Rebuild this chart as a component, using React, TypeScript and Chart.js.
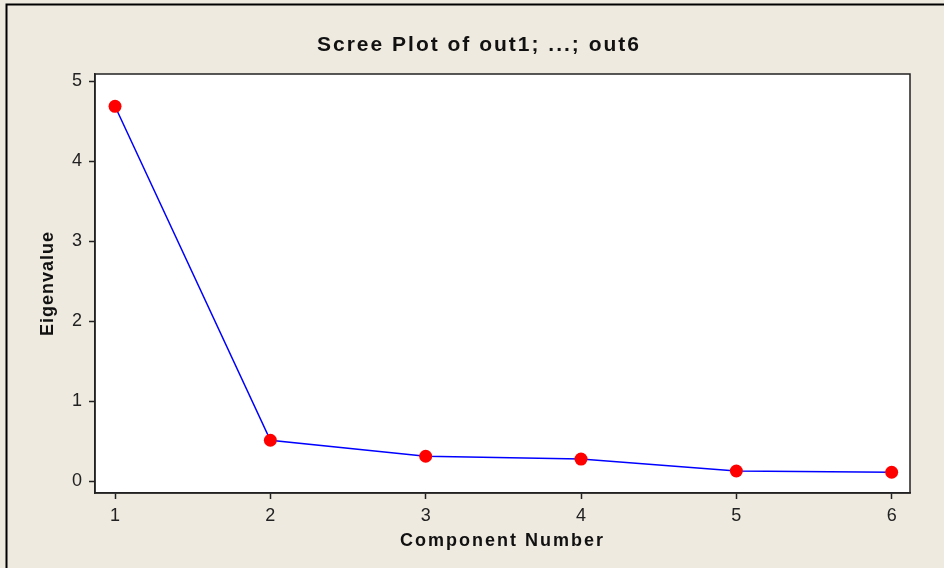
import React, { useEffect, useRef } from "react";
import { Chart, registerables } from "chart.js";

Chart.register(...registerables);

const components = [1, 2, 3, 4, 5, 6];
const eigenvalues = [4.69, 0.51, 0.31, 0.275, 0.125, 0.11];
const xTickValues = [1, 2, 3, 4, 5, 6];
const yTickValues = [0, 1, 2, 3, 4, 5];
const titleText = "Scree Plot of out1; ...; out6";
const xTitleText = "Component Number";
const yTitleText = "Eigenvalue";

const BG = "#eeeae0";

const framePlugin = {
  id: "framePlugin",
  beforeDraw(chart: any) {
    const { ctx, chartArea: a, width, height } = chart;
    ctx.save();
    ctx.fillStyle = BG;
    ctx.fillRect(0, 0, width, height);
    ctx.strokeStyle = "#000";
    ctx.lineWidth = 2;
    ctx.beginPath();
    ctx.moveTo(width, 4.5);
    ctx.lineTo(6.5, 4.5);
    ctx.lineTo(6.5, height);
    ctx.stroke();
    ctx.fillStyle = "#fff";
    ctx.fillRect(a.left, a.top, a.right - a.left, a.bottom - a.top);
    ctx.restore();
  },
  afterDraw(chart: any) {
    const { ctx, chartArea: a } = chart;
    ctx.save();
    ctx.strokeStyle = "#222";
    ctx.lineWidth = 1.5;
    ctx.strokeRect(a.left, a.top, a.right - a.left, a.bottom - a.top);
    ctx.fillStyle = "#111";
    ctx.textAlign = "center";
    ctx.textBaseline = "middle";
    (ctx as any).letterSpacing = "2px";
    ctx.font = "bold 21px 'Liberation Sans', Arial, sans-serif";
    ctx.fillText(titleText, 479, 45.5);
    ctx.font = "bold 18px 'Liberation Sans', Arial, sans-serif";
    ctx.fillText(xTitleText, (a.left + a.right) / 2, 541);
    (ctx as any).letterSpacing = "1px";
    ctx.translate(48, (a.top + a.bottom) / 2);
    ctx.rotate(-Math.PI / 2);
    ctx.fillText(yTitleText, 0, 0);
    ctx.restore();
  },
};

export default function App() {
  const ref = useRef<HTMLCanvasElement | null>(null);
  useEffect(() => {
    if (!ref.current) return;
    const chart = new Chart(ref.current, {
      type: "line",
      data: {
        datasets: [
          {
            data: components.map((c, i) => ({ x: c, y: eigenvalues[i] })),
            borderColor: "#0000ff",
            borderWidth: 1.5,
            pointBackgroundColor: "#ff0000",
            pointBorderColor: "#ff0000",
            pointRadius: 6.5,
            pointBorderWidth: 0,
            tension: 0,
          },
        ],
      },
      options: {
        animation: false,
        responsive: false,
        layout: { padding: { left: 0, top: 74, right: 34, bottom: 0 } },
        plugins: { legend: { display: false }, tooltip: { enabled: false }, title: { display: false } },
        scales: {
          x: {
            type: "linear",
            min: 0.871,
            max: 6.118,
            afterFit: (s: any) => {
              s.height = 75;
            },
            afterBuildTicks: (s: any) => {
              s.ticks = xTickValues.map((v) => ({ value: v }));
            },
            grid: { drawOnChartArea: false, drawTicks: true, tickLength: 6, color: "#222", tickWidth: 1.5 },
            border: { display: true, color: "#222", width: 1.5 },
            ticks: {
              color: "#222",
              padding: 6,
              font: { family: "'Liberation Sans', Arial, sans-serif", size: 18 },
              callback: (v: any) => String(v),
            },
          },
          y: {
            type: "linear",
            min: -0.15,
            max: 5.094,
            afterFit: (s: any) => {
              s.width = 95;
            },
            afterBuildTicks: (s: any) => {
              s.ticks = yTickValues.map((v) => ({ value: v }));
            },
            grid: { drawOnChartArea: false, drawTicks: true, tickLength: 6, color: "#222", tickWidth: 1.5 },
            border: { display: true, color: "#222", width: 1.5 },
            ticks: {
              color: "#222",
              padding: 7,
              font: { family: "'Liberation Sans', Arial, sans-serif", size: 18 },
              callback: (v: any) => String(v),
            },
          },
        },
      },
      plugins: [framePlugin],
    });
    return () => chart.destroy();
  }, []);
  return (
    <div style={{ position: "absolute", left: 0, top: 0, width: 944, height: 568 }}>
      <canvas ref={ref} width={944} height={568} />
    </div>
  );
}
